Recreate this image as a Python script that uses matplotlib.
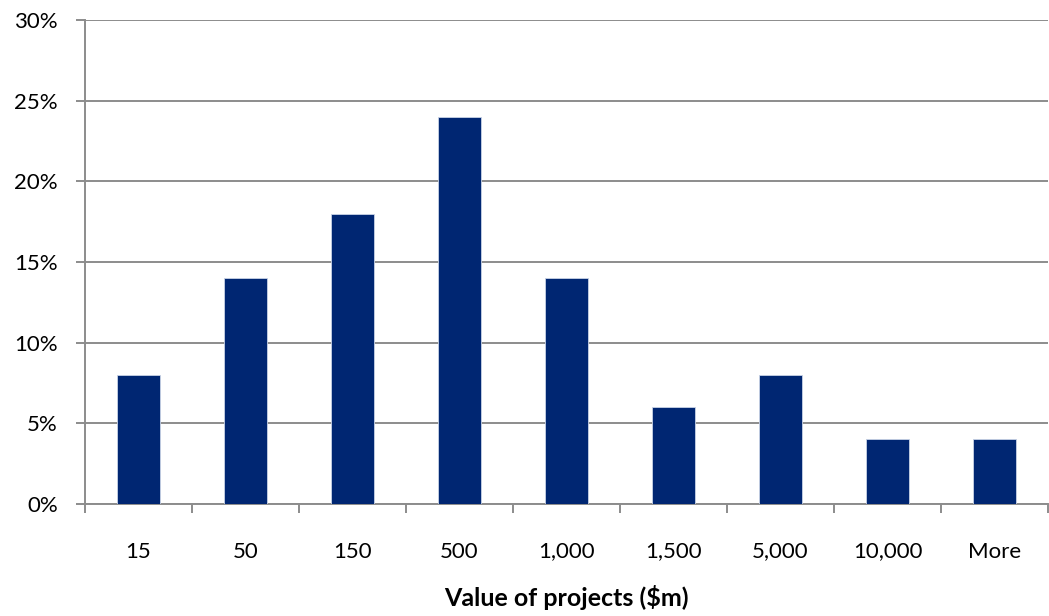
import matplotlib.pyplot as plt
import numpy as np
from matplotlib.ticker import FuncFormatter, MultipleLocator

CATEGORIES = ["15", "50", "150", "500", "1,000", "1,500", "5,000", "10,000", "More"]
SHARE_PCT = [8, 14, 18, 24, 14, 6, 8, 4, 4]

BAR_COLOR = "#002672"
GRID_COLOR = "#8c8c8c"

plt.rcParams["font.family"] = ["Lato", "DejaVu Sans"]

fig = plt.figure(figsize=(10.49, 6.16), dpi=100)
ax = fig.add_axes([85 / 1049, 112 / 616, 963 / 1049, 484 / 616])

x = np.arange(len(CATEGORIES))
ax.bar(x, SHARE_PCT, width=0.40, color=BAR_COLOR, edgecolor="#c9d3e6",
       linewidth=0.6, zorder=3)

ax.set_xlim(-0.5, len(CATEGORIES) - 0.5)
ax.set_ylim(0, 30)
ax.yaxis.set_major_locator(MultipleLocator(5))
ax.yaxis.set_major_formatter(FuncFormatter(lambda v, _: f"{v:.0f}%"))
ax.grid(axis="y", color=GRID_COLOR, linewidth=1.4, zorder=0)

# category labels sit between the boundary tick marks
ax.set_xticks(np.arange(len(CATEGORIES) + 1) - 0.5)
ax.set_xticklabels([])
ax.set_xticks(x, minor=True)
ax.set_xticklabels(CATEGORIES, minor=True, fontsize=16)
ax.tick_params(axis="x", which="major", length=6.5, width=1.4, color=GRID_COLOR)
ax.tick_params(axis="x", which="minor", length=0, pad=27)
ax.tick_params(axis="y", length=6.5, width=1.4, color=GRID_COLOR, labelsize=16, pad=13)

for side in ("top", "right"):
    ax.spines[side].set_visible(False)
for side in ("left", "bottom"):
    ax.spines[side].set_color(GRID_COLOR)
    ax.spines[side].set_linewidth(1.4)

ax.set_xlabel("Value of projects ($m)", fontsize=18, fontweight="bold", labelpad=17)

fig.savefig("out.png", dpi=100)
